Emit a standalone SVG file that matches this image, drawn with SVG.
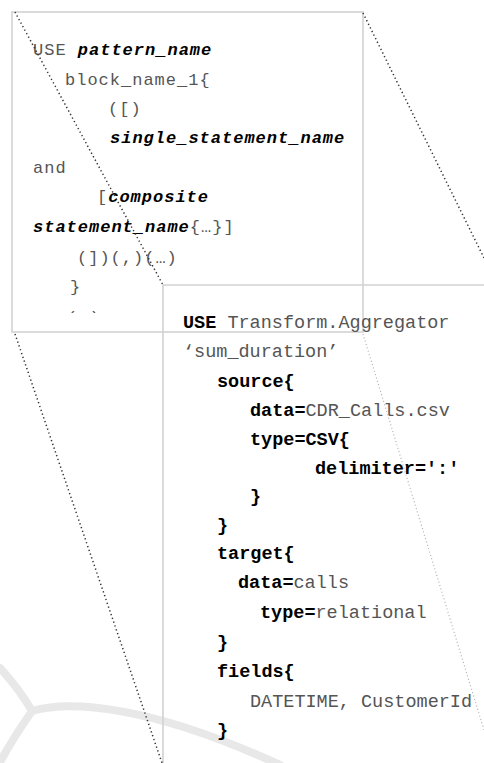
<svg xmlns="http://www.w3.org/2000/svg" width="484" height="763" viewBox="0 0 484 763">
<defs>
<style>
.box{fill:none;stroke:#d2d2d2;stroke-width:1.6}
.dot{fill:none;stroke:#333;stroke-width:1.5;stroke-dasharray:1.3 2.7}
.dotl{fill:none;stroke:#b0b0b0;stroke-width:1.2;stroke-dasharray:1 2.5}
.wm{fill:none;stroke:#e8e8e8;stroke-width:8;stroke-linecap:round}
.t1{font-family:"Liberation Mono","Courier New",monospace;font-size:17px;letter-spacing:1px;fill:#555}
.t2{font-family:"Liberation Mono","Courier New",monospace;font-size:18.5px;fill:#555}
.b{font-weight:bold;fill:#000}
.bi{font-weight:bold;font-style:italic;fill:#000}
</style>
<clipPath id="clipLast"><rect x="0" y="0" width="484" height="313"/></clipPath>
</defs>
<g id="watermark">
<path class="wm" d="M0,668 Q20,690 32,711"/>
<path class="wm" d="M32,711 Q15,735 0,762"/>
<path class="wm" d="M32,711 C70,700 150,705 280,765"/>
</g>
<g id="pattern-box">
<rect class="box" x="12" y="12" width="351" height="320"/>
<text class="t1" x="33" y="55">USE <tspan class="bi">pattern_name</tspan></text>
<text class="t1" x="65" y="85">block_name_1{</text>
<text class="t1" x="108" y="114">([)</text>
<text class="t1 bi" x="110" y="143">single_statement_name</text>
<text class="t1" x="33" y="173">and</text>
<text class="t1" x="97" y="202">[<tspan class="bi">composite</tspan></text>
<text class="t1" x="33" y="232"><tspan class="bi">statement_name</tspan>{…}]</text>
<text class="t1" x="77" y="263">(])(,)(…)</text>
<text class="t1" x="70" y="292">}</text>
<text class="t1" x="67" y="323" clip-path="url(#clipLast)">( )</text>
</g>
<g id="example-box">
<path class="box" d="M163,763 V285 H484"/>
<text class="t2" x="183" y="328"><tspan class="b">USE</tspan> Transform.Aggregator</text>
<text class="t2" x="183" y="357">‘sum_duration’</text>
<text class="t2 b" x="217" y="387">source{</text>
<text class="t2" x="250" y="416"><tspan class="b">data=</tspan>CDR_Calls.csv</text>
<text class="t2 b" x="250" y="445">type=CSV{</text>
<text class="t2 b" x="315" y="474">delimiter=':'</text>
<text class="t2 b" x="250" y="502">}</text>
<text class="t2 b" x="217" y="531">}</text>
<text class="t2 b" x="217" y="559">target{</text>
<text class="t2" x="238" y="588"><tspan class="b">data=</tspan>calls</text>
<text class="t2" x="260" y="618"><tspan class="b">type=</tspan>relational</text>
<text class="t2 b" x="217" y="648">}</text>
<text class="t2 b" x="217" y="677">fields{</text>
<text class="t2" x="250" y="707">DATETIME, CustomerId</text>
<text class="t2 b" x="217" y="736">}</text>
</g>
<g id="connectors">
<line class="dot" x1="15" y1="12" x2="163" y2="285"/>
<line class="dot" x1="363" y1="13" x2="484" y2="258"/>
<line class="dot" x1="15" y1="334" x2="162" y2="763"/>
<line class="dotl" x1="363" y1="334" x2="484" y2="730"/>
</g>
</svg>
